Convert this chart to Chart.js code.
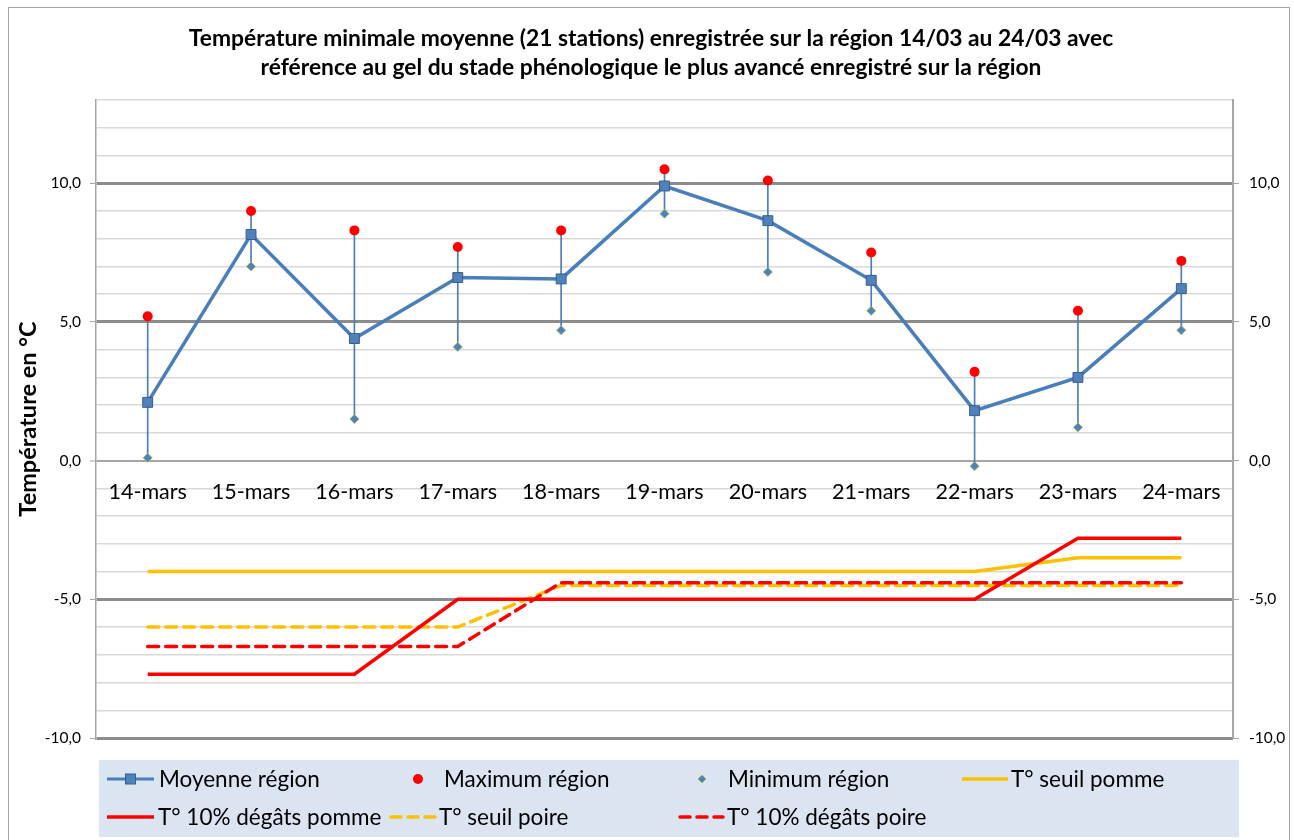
<!DOCTYPE html>
<html>
<head>
<meta charset="utf-8">
<script src="https://cdn.jsdelivr.net/npm/chart.js@4.4.0/dist/chart.umd.min.js"></script>
<style>
  html, body { margin: 0; padding: 0; background: #fff; }
</style>
</head>
<body>
<canvas id="chart" width="1294" height="840"></canvas>
<script>
// categories and series
var categories = ['14-mars', '15-mars', '16-mars', '17-mars', '18-mars', '19-mars',
                  '20-mars', '21-mars', '22-mars', '23-mars', '24-mars'];

var moyenne = [2.1, 8.15, 4.4, 6.6, 6.55, 9.9, 8.65, 6.5, 1.8, 3.0, 6.2];
var maximum = [5.2, 9.0, 8.3, 7.7, 8.3, 10.5, 10.1, 7.5, 3.2, 5.4, 7.2];
var minimum = [0.1, 7.0, 1.5, 4.1, 4.7, 8.9, 6.8, 5.4, -0.2, 1.2, 4.7];

var seuilPomme  = [-4, -4, -4, -4, -4, -4, -4, -4, -4, -3.5, -3.5];
var degatsPomme = [-7.7, -7.7, -7.7, -5, -5, -5, -5, -5, -5, -2.8, -2.8];
var seuilPoire  = [-6, -6, -6, -6, -4.5, -4.5, -4.5, -4.5, -4.5, -4.5, -4.5];
var degatsPoire = [-6.7, -6.7, -6.7, -6.7, -4.4, -4.4, -4.4, -4.4, -4.4, -4.4, -4.4];

var titleLines = [
  'Température minimale moyenne (21 stations) enregistrée sur la région 14/03 au 24/03 avec',
  'référence au gel du stade phénologique le plus avancé enregistré sur la région'
];
var yTitle = 'Température en °C';

var FONT = 'Lato, "Open Sans", sans-serif';
var BLUE = '#4a7ebb';
var ORANGE = '#ffc000';
var RED = '#ff0000';

function frNum(v) {
  return v.toFixed(1).replace('.', ',');
}

// high-low lines from min to max
var hiLo = minimum.map(function (m, i) { return [m, maximum[i]]; });

var frame = {
  id: 'frame',
  beforeDraw: function (chart) {
    var ctx = chart.ctx;
    ctx.save();
    ctx.fillStyle = '#fff';
    ctx.fillRect(0, 0, chart.width, chart.height);
    ctx.strokeStyle = '#a6a6a6';
    ctx.lineWidth = 1;
    ctx.strokeRect(8.5, 7.5, 1281, 850);
    ctx.restore();
  }
};

// legend laid out in a grid like the spreadsheet one
var legendItems = [
  { label: 'Moyenne région', kind: 'lineSquare', x: 107, w: 47, tx: 159, row: 0 },
  { label: 'Maximum région', kind: 'dot', x: 418, w: 0, tx: 444, row: 0 },
  { label: 'Minimum région', kind: 'diamond', x: 702, w: 0, tx: 728, row: 0 },
  { label: 'T° seuil pomme', kind: 'line', color: ORANGE, x: 962, w: 46, tx: 1011, row: 0 },
  { label: 'T° 10% dégâts pomme', kind: 'line', color: RED, x: 107, w: 47, tx: 158, row: 1 },
  { label: 'T° seuil poire', kind: 'dash', color: ORANGE, x: 389, w: 47, tx: 439, row: 1 },
  { label: 'T° 10% dégâts poire', kind: 'dash', color: RED, x: 678, w: 45, tx: 727, row: 1 }
];

var legendBox = {
  id: 'legendBox',
  afterDraw: function (chart) {
    var ctx = chart.ctx;
    var rows = [779, 817];
    ctx.save();
    ctx.fillStyle = '#dbe5f1';
    ctx.fillRect(99, 760, 1140, 77);
    ctx.font = '22.5px ' + FONT;
    ctx.textBaseline = 'middle';
    legendItems.forEach(function (it) {
      var y = rows[it.row];
      ctx.setLineDash([]);
      ctx.lineCap = 'butt';
      if (it.kind === 'lineSquare') {
        ctx.strokeStyle = BLUE;
        ctx.lineWidth = 3;
        ctx.beginPath(); ctx.moveTo(it.x, y); ctx.lineTo(it.x + it.w, y); ctx.stroke();
        ctx.fillStyle = '#4f81bd';
        ctx.strokeStyle = '#385d8a';
        ctx.lineWidth = 1;
        ctx.fillRect(it.x + it.w / 2 - 5, y - 5, 10, 10);
        ctx.strokeRect(it.x + it.w / 2 - 5, y - 5, 10, 10);
      } else if (it.kind === 'dot') {
        ctx.fillStyle = RED;
        ctx.beginPath(); ctx.arc(it.x, y, 5, 0, Math.PI * 2); ctx.fill();
      } else if (it.kind === 'diamond') {
        ctx.fillStyle = '#4f81bd';
        ctx.strokeStyle = '#9bbb59';
        ctx.lineWidth = 1;
        ctx.beginPath();
        ctx.moveTo(it.x - 4, y); ctx.lineTo(it.x, y - 4);
        ctx.lineTo(it.x + 4, y); ctx.lineTo(it.x, y + 4); ctx.closePath();
        ctx.fill(); ctx.stroke();
      } else {
        ctx.strokeStyle = it.color;
        ctx.lineWidth = 3.5;
        if (it.kind === 'dash') { ctx.setLineDash([10, 7]); ctx.lineCap = 'round'; }
        ctx.beginPath(); ctx.moveTo(it.x + (it.kind === 'dash' ? 2 : 0), y); ctx.lineTo(it.x + it.w, y); ctx.stroke();
      }
      ctx.setLineDash([]);
      ctx.fillStyle = '#000';
      ctx.fillText(it.label, it.tx, y + 1);
    });
    ctx.restore();
  }
};

function gridColor(c) {
  var v = c.tick ? c.tick.value : 0;
  if (v === 0) return '#a6a6a6';
  if (v % 5 === 0) return '#8c8c8c';
  return '#d9d9d9';
}
function gridWidth(c) {
  var v = c.tick ? c.tick.value : 0;
  if (v === 0) return 2;
  if (v % 5 === 0) return 3;
  return 1.5;
}
function tickColor(c) {
  var v = c.tick ? c.tick.value : 0;
  return v % 5 === 0 ? '#a6a6a6' : 'rgba(0,0,0,0)';
}

var ctx = document.getElementById('chart').getContext('2d');

var chart = new Chart(ctx, {
  data: {
    labels: categories,
    datasets: [
      {
        type: 'line', label: 'Moyenne région', data: moyenne, order: 1,
        borderColor: BLUE, borderWidth: 3.5, tension: 0,
        pointStyle: 'rect', pointRadius: 7, pointBackgroundColor: '#4f81bd',
        pointBorderColor: '#385d8a', pointBorderWidth: 1, yAxisID: 'y'
      },
      {
        type: 'line', label: 'Maximum région', data: maximum, order: 0,
        showLine: false, pointStyle: 'circle', pointRadius: 5,
        pointBackgroundColor: RED, pointBorderColor: RED, pointBorderWidth: 0, yAxisID: 'y'
      },
      {
        type: 'line', label: 'Minimum région', data: minimum, order: 0,
        showLine: false, pointStyle: 'rectRot', pointRadius: 4.5,
        pointBackgroundColor: '#4f81bd', pointBorderColor: '#9bbb59', pointBorderWidth: 1, yAxisID: 'y'
      },
      {
        type: 'bar', label: 'hilo', data: hiLo, order: 5,
        backgroundColor: BLUE, borderWidth: 0, barThickness: 1, yAxisID: 'y'
      },
      {
        type: 'line', label: 'T° seuil pomme', data: seuilPomme, order: 4,
        borderColor: ORANGE, borderWidth: 3.5, pointRadius: 0, tension: 0, yAxisID: 'y'
      },
      {
        type: 'line', label: 'T° 10% dégâts pomme', data: degatsPomme, order: 2,
        borderColor: RED, borderWidth: 3.5, pointRadius: 0, tension: 0, yAxisID: 'y'
      },
      {
        type: 'line', label: 'T° seuil poire', data: seuilPoire, order: 4,
        borderColor: ORANGE, borderWidth: 3.5, borderDash: [11, 7], borderCapStyle: 'round',
        pointRadius: 0, tension: 0, yAxisID: 'y'
      },
      {
        type: 'line', label: 'T° 10% dégâts poire', data: degatsPoire, order: 3,
        borderColor: RED, borderWidth: 3.5, borderDash: [11, 7], borderCapStyle: 'round',
        pointRadius: 0, tension: 0, yAxisID: 'y'
      }
    ]
  },
  options: {
    responsive: false,
    animation: false,
    layout: { padding: { left: 8, right: 0, top: 10, bottom: 102 } },
    plugins: {
      legend: { display: false },
      tooltip: { enabled: false },
      title: {
        display: true,
        text: titleLines,
        color: '#000',
        font: { family: FONT, size: 22.8, weight: 'bold', lineHeight: 1.272 },
        padding: { top: 14, bottom: 18 }
      }
    },
    scales: {
      x: {
        type: 'category',
        position: { y: 0 },
        offset: true,
        grid: { display: false, drawTicks: false },
        border: { display: false },
        ticks: { color: '#000', font: { family: FONT, size: 21.5 }, padding: 19, maxRotation: 0 }
      },
      y: {
        position: 'left',
        min: -10, max: 13,
        afterFit: function (s) { s.width = 88; },
        ticks: {
          stepSize: 1, autoSkip: false, color: '#000', padding: 9,
          font: { family: FONT, size: 15.5 },
          callback: function (v) { return v % 5 === 0 ? frNum(v) : ''; }
        },
        grid: { color: gridColor, lineWidth: gridWidth, tickLength: 6, tickColor: tickColor, tickWidth: 1 },
        border: { display: true, color: '#a6a6a6', width: 1.5 },
        title: {
          display: true, text: yTitle, color: '#000',
          font: { family: FONT, size: 23.5, weight: 'bold' },
          padding: { top: 6, bottom: 0 }
        }
      },
      y2: {
        position: 'right',
        min: -10, max: 13,
        afterFit: function (s) { s.width = 61; },
        ticks: {
          stepSize: 1, autoSkip: false, color: '#000', padding: 10,
          font: { family: FONT, size: 15.5 },
          callback: function (v) { return v % 5 === 0 ? frNum(v) : ''; }
        },
        grid: { drawOnChartArea: false, tickLength: 6, tickColor: tickColor, tickWidth: 1 },
        border: { display: true, color: '#a6a6a6', width: 2 }
      }
    }
  },
  plugins: [frame, legendBox]
});
</script>
</body>
</html>
